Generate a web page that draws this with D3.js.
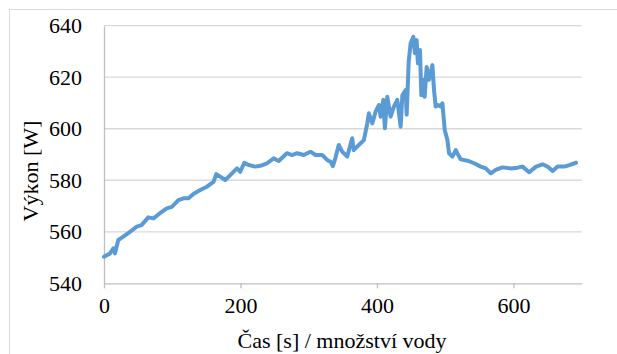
<!DOCTYPE html>
<html>
<head>
<meta charset="utf-8">
<script src="https://cdn.jsdelivr.net/npm/d3@7"></script>
</head>
<body style="margin:0">
<script>
// Vykon vs. cas - line chart

// time [s]
var times = [0, 8.8, 13.7, 16, 21, 28.3, 38, 48, 55, 65, 72.4, 82, 92, 99.4, 109, 116.5,
  123.8, 131, 141, 150.8, 160.5, 164.5, 170.3, 177.7, 185, 194.9, 199.7, 205.6, 212,
  221.6, 229, 239, 248.6, 256, 268, 275.6, 283, 292.7, 302.5, 310, 319.7, 327, 332,
  335.3, 339, 344, 349, 356.4, 363.7, 366, 373.4, 380.8, 385.8, 388.1, 393.1, 398,
  402.8, 405.3, 409.3, 411.6, 415.1, 420, 424.8, 429.8, 434.7, 437.2, 442, 443.5,
  446.5, 449.3, 453.3, 455.6, 458.1, 460, 463, 465, 467.9, 469.9, 472.8, 476.2, 481.2,
  483.6, 486, 489.4, 493.4, 495.9, 499.3, 503.2, 505.6, 510.6, 515.4, 520.3, 522.8,
  532.6, 542.4, 552, 559.5, 566.8, 574, 584, 596, 606, 613.3, 623, 633, 642.7, 650,
  657.4, 664.7, 674.5, 681.8, 691.6];

// power [W]
var power = [550.3, 551.6, 553.6, 551.6, 556.8, 558.1, 560, 562, 562.6, 565.6, 565.2,
  567.2, 569.1, 569.7, 572.3, 573, 573, 574.7, 576.2, 577.5, 579.4, 582.4, 581.4, 580.1,
  582, 584.6, 583.3, 586.8, 585.9, 585.3, 585.6, 586.6, 588.5, 587.5, 590.5, 589.8,
  590.5, 589.8, 591.1, 589.8, 589.8, 587.9, 587.2, 585.5, 588.5, 593.7, 591.1, 589.2,
  596.3, 591.7, 593.7, 595.6, 602.1, 606, 602.1, 606.6, 609.2, 604.7, 611.2, 600.2,
  612.4, 604.7, 608.6, 611.2, 600.8, 613, 615, 605.5, 626, 633.2, 635.7, 629.3, 634.4,
  625.4, 630.6, 613, 619, 612.4, 624, 619, 624.7, 615, 608.6, 609.2, 608.6, 609.9,
  599.5, 595.6, 590.5, 589.2, 591.7, 589.2, 588.1, 587.6, 586.6, 585.3, 584.6, 582.7,
  584, 585, 584.6, 584.9, 585.3, 583.1, 585.3, 586.2, 585.3, 583.6, 585.3, 585.3,
  585.9, 586.8];

var xTicks = [0, 200, 400, 600];
var yTicks = [540, 560, 580, 600, 620, 640];

var xTitle = "Čas [s] / množství vody";
var yTitle = "Výkon [W]";

var svgWidth = 617;
var svgHeight = 354;

var margin = {
  top: 25.7,
  right: 35.3,
  bottom: 70.7,
  left: 104
};

var width = svgWidth - margin.left - margin.right;
var height = svgHeight - margin.top - margin.bottom;

var fontFamily = "Liberation Serif";

var svg = d3.select("body")
  .append("svg")
  .attr("width", svgWidth)
  .attr("height", svgHeight);

// outer chart border (runs off the right and bottom)
svg.append("rect")
  .attr("x", 9.5)
  .attr("y", 9.5)
  .attr("width", 700)
  .attr("height", 400)
  .attr("fill", "none")
  .attr("stroke", "#d9d9d9");

var chartGroup = svg.append("g")
  .attr("transform", `translate(${margin.left}, ${margin.top})`);

var xLinearScale = d3.scaleLinear()
  .domain([0, 700])
  .range([0, width]);

var yLinearScale = d3.scaleLinear()
  .domain([540, 640])
  .range([height, 0]);

// gridlines
chartGroup.append("g")
  .selectAll("line")
  .data(yTicks.slice(1))
  .enter()
  .append("line")
  .attr("x1", 0)
  .attr("x2", width)
  .attr("y1", d => yLinearScale(d))
  .attr("y2", d => yLinearScale(d))
  .attr("stroke", "#d9d9d9")
  .attr("stroke-width", 1.3);

// y axis
var leftAxis = d3.axisLeft(yLinearScale)
  .tickValues(yTicks)
  .tickSize(0)
  .tickPadding(22);

var yAxis = chartGroup.append("g")
  .call(leftAxis);
yAxis.select(".domain").attr("stroke", "#bfbfbf").attr("stroke-width", 1.3);

// x axis
var bottomAxis = d3.axisBottom(xLinearScale)
  .tickValues(xTicks)
  .tickSize(5)
  .tickSizeOuter(0)
  .tickPadding(9);

var xAxis = chartGroup.append("g")
  .attr("transform", `translate(0, ${height})`)
  .call(bottomAxis);
xAxis.select(".domain").attr("stroke", "#bfbfbf").attr("stroke-width", 1.3);
xAxis.selectAll("line").attr("stroke", "#bfbfbf").attr("stroke-width", 1.3);

// drop d3's sans-serif default and set the serif face on each label
[xAxis, yAxis].forEach(function(ax) {
  ax.attr("font-family", null).attr("font-size", null);
  ax.selectAll("text")
    .attr("font-family", fontFamily)
    .attr("font-size", 22);
});

// data line
var line = d3.line()
  .x((d, i) => xLinearScale(times[i]))
  .y(d => yLinearScale(d));

chartGroup.append("path")
  .datum(power)
  .attr("d", line)
  .attr("fill", "none")
  .attr("stroke", "#5b9bd5")
  .attr("stroke-width", 4)
  .attr("stroke-linejoin", "round")
  .attr("stroke-linecap", "round");

// axis titles
svg.append("text")
  .attr("x", 342)
  .attr("y", 348)
  .attr("text-anchor", "middle")
  .attr("font-family", fontFamily)
  .attr("font-size", 22)
  .text(xTitle);

svg.append("text")
  .attr("transform", "translate(37.5, 171) rotate(-90)")
  .attr("text-anchor", "middle")
  .attr("font-family", fontFamily)
  .attr("font-size", 22)
  .text(yTitle);
</script>
</body>
</html>
